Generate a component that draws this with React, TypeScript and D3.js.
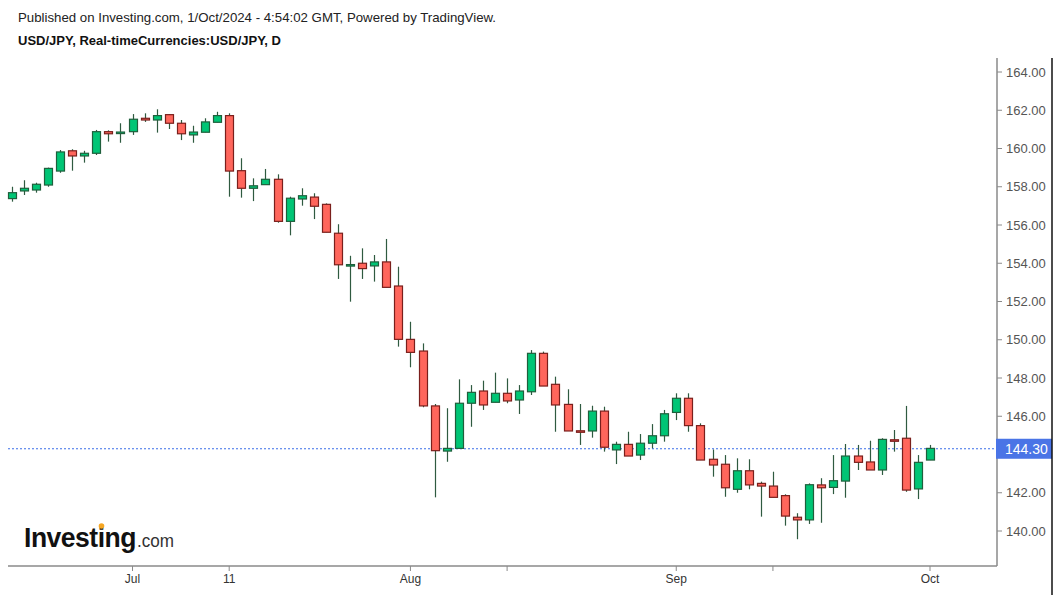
import React from "react";
import * as d3 from "d3";

// ---- Data (USD/JPY daily, 17 Jun 2024 – 1 Oct 2024) ----
const dates: string[] = [
  "2024-06-17","2024-06-18","2024-06-19","2024-06-20","2024-06-21",
  "2024-06-24","2024-06-25","2024-06-26","2024-06-27","2024-06-28",
  "2024-07-01","2024-07-02","2024-07-03","2024-07-04","2024-07-05",
  "2024-07-08","2024-07-09","2024-07-10","2024-07-11","2024-07-12",
  "2024-07-15","2024-07-16","2024-07-17","2024-07-18","2024-07-19",
  "2024-07-22","2024-07-23","2024-07-24","2024-07-25","2024-07-26",
  "2024-07-29","2024-07-30","2024-07-31","2024-08-01","2024-08-02",
  "2024-08-05","2024-08-06","2024-08-07","2024-08-08","2024-08-09",
  "2024-08-12","2024-08-13","2024-08-14","2024-08-15","2024-08-16",
  "2024-08-19","2024-08-20","2024-08-21","2024-08-22","2024-08-23",
  "2024-08-26","2024-08-27","2024-08-28","2024-08-29","2024-08-30",
  "2024-09-02","2024-09-03","2024-09-04","2024-09-05","2024-09-06",
  "2024-09-09","2024-09-10","2024-09-11","2024-09-12","2024-09-13",
  "2024-09-16","2024-09-17","2024-09-18","2024-09-19","2024-09-20",
  "2024-09-23","2024-09-24","2024-09-25","2024-09-26","2024-09-27",
  "2024-09-30","2024-10-01",
];

const opens: number[] = [
  157.38,157.78,157.83,158.09,158.82,159.88,159.61,159.75,160.88,160.78,
  160.88,161.58,161.49,161.77,161.32,160.71,160.85,161.37,161.72,158.84,
  157.92,158.11,158.39,156.19,157.36,157.46,157.08,155.57,153.92,154.00,
  153.86,154.07,152.81,150.02,149.41,146.54,144.18,144.32,146.68,147.32,
  146.73,147.20,146.85,147.28,149.29,147.67,146.62,145.24,145.23,146.27,
  144.24,144.53,143.97,144.59,144.98,146.20,146.94,145.51,143.75,143.49,
  142.18,143.15,142.49,142.35,141.85,140.72,140.58,142.41,142.28,142.61,
  143.92,143.61,143.19,144.77,144.85,142.20,143.71,
];
const highs: number[] = [
  158.00,158.34,158.21,159.00,159.92,159.96,159.88,160.97,160.95,161.32,
  161.80,161.84,162.05,161.80,161.49,161.19,161.58,161.92,161.84,159.49,
  158.44,158.93,158.65,157.48,157.92,157.66,157.13,156.04,154.39,154.78,
  154.43,155.27,153.82,150.94,149.81,146.64,146.42,147.93,147.63,147.86,
  148.28,147.98,147.63,149.46,149.38,148.07,147.41,146.64,146.55,146.50,
  144.67,145.19,145.07,145.59,146.33,147.20,147.20,145.63,144.26,143.97,
  143.80,143.75,142.58,143.10,141.92,140.93,142.49,142.76,143.97,144.55,
  144.50,144.72,144.85,145.28,146.54,143.97,144.50,
];
const lows: number[] = [
  157.22,157.57,157.69,158.00,158.73,158.84,159.26,159.66,160.36,160.30,
  160.71,161.39,160.83,161.02,160.44,160.30,160.85,161.37,157.48,157.43,
  157.25,158.11,156.12,155.46,157.01,156.31,155.62,153.18,151.99,153.18,
  153.04,152.74,149.64,148.56,146.47,141.76,143.62,144.32,145.45,146.33,
  146.73,146.68,146.12,147.11,147.58,145.19,145.23,144.50,144.88,144.15,
  143.50,143.92,143.71,144.32,144.67,145.80,145.19,143.71,142.84,141.79,
  142.00,142.18,140.75,141.76,140.28,139.57,140.37,140.43,141.93,141.74,
  143.19,143.19,142.93,144.15,142.05,141.67,143.71,
];
const closes: number[] = [
  157.69,157.92,158.13,158.96,159.82,159.61,159.75,160.88,160.77,160.86,
  161.53,161.49,161.72,161.32,160.77,160.86,161.39,161.72,158.82,157.92,
  158.05,158.39,156.19,157.40,157.53,156.98,155.62,153.92,153.93,153.72,
  154.07,152.74,150.02,149.34,146.54,144.20,144.32,146.68,147.25,146.59,
  147.20,146.80,147.32,149.29,147.58,146.59,145.23,145.22,146.27,144.38,
  144.53,143.92,144.59,144.98,146.13,146.94,145.51,143.71,143.45,142.26,
  143.15,142.41,142.35,141.76,140.78,140.58,142.42,142.26,142.63,143.92,
  143.59,143.19,144.79,144.76,142.14,143.59,144.32,
];

const yTicks: number[] = [140, 142, 144, 146, 148, 150, 152, 154, 156, 158, 160, 162, 164];
const xTickDates: string[] = ["2024-07-01", "2024-07-11", "2024-08-01", "2024-08-13", "2024-09-02", "2024-09-12", "2024-10-01"];
const xTickLabels: string[] = ["Jul", "11", "Aug", "", "Sep", "", "Oct"];
const lastPrice = 144.30;

const headerLine1 = "Published on Investing.com, 1/Oct/2024 - 4:54:02 GMT, Powered by TradingView.";
const headerLine2 = "USD/JPY, Real-timeCurrencies:USD/JPY, D";

export default function App() {
  const W = 1060, H = 595;
  const plotLeft = 8, plotRight = 997, plotTop = 58, plotBottom = 566;

  const x = d3.scalePoint<string>().domain(dates).range([11.7, 930]);
  const y = d3.scaleLinear().domain([140, 164]).range([531, 72]);

  const bodyW = 8;
  const GREEN = "#00c575", GREEN_B = "#1f5f3c";
  const RED = "#ff665c", RED_B = "#7a1f1c";
  const WICK = "#2f5a40";
  const font = "Arial, 'Liberation Sans', sans-serif";

  const candles = dates.map((d, i) => ({ d, o: opens[i], h: highs[i], l: lows[i], c: closes[i] }));
  const labelY = y(lastPrice);

  return (
    <svg width={W} height={H} style={{ position: "absolute", left: 0, top: 0, background: "#fff" }}
      fontFamily={font}>
      <rect x={0} y={0} width={W} height={H} fill="#fff" />
      <text x={18} y={22} fontSize={13} fill="#222" textLength={478} lengthAdjust="spacingAndGlyphs">{headerLine1}</text>
      <text x={18} y={45} fontSize={13} fontWeight="bold" fill="#111">{headerLine2}</text>

      {/* last price dashed line */}
      <line x1={plotLeft} x2={plotRight} y1={labelY} y2={labelY}
        stroke="#3a6ee8" strokeWidth={1} strokeDasharray="2,2" />

      {/* candles */}
      {candles.map((k) => {
        const cx = Math.round(x(k.d)!) + 0.5;
        const up = k.c >= k.o;
        const top = y(Math.max(k.o, k.c));
        const bot = y(Math.min(k.o, k.c));
        const bh = Math.max(bot - top, 1.5);
        return (
          <g key={k.d}>
            <line x1={cx} x2={cx} y1={y(k.h)} y2={y(k.l)} stroke={WICK} strokeWidth={1.2} />
            <rect x={cx - bodyW / 2} y={top} width={bodyW} height={bh}
              fill={up ? GREEN : RED} stroke={up ? GREEN_B : RED_B} strokeWidth={1.2} />
          </g>
        );
      })}

      {/* y axis */}
      <line x1={plotRight} x2={plotRight} y1={plotTop} y2={plotBottom} stroke="#8a8a8a" strokeWidth={1.5} />
      {yTicks.map((t) => (
        <g key={t}>
          <line x1={plotRight} x2={plotRight + 5} y1={y(t)} y2={y(t)} stroke="#8a8a8a" />
          {Math.abs(y(t) - labelY) > 16 && (
            <text x={1006} y={y(t)} dy="0.35em" fontSize={13} fill="#555">{t.toFixed(2)}</text>
          )}
        </g>
      ))}

      {/* last price label */}
      <rect x={996} y={labelY - 10} width={56} height={20} fill="#4a74e6" />
      <text x={1005} y={labelY} dy="0.36em" fontSize={14} fill="#fff">{lastPrice.toFixed(2)}</text>

      {/* x axis */}
      <line x1={plotLeft} x2={plotRight} y1={plotBottom} y2={plotBottom} stroke="#8a8a8a" strokeWidth={1.5} />
      {xTickDates.map((d, i) => (
        <g key={d}>
          <line x1={x(d)!} x2={x(d)!} y1={plotBottom} y2={plotBottom + 5} stroke="#8a8a8a" />
          <text x={x(d)!} y={583} textAnchor="middle" fontSize={12} fill="#333">{xTickLabels[i]}</text>
        </g>
      ))}

      {/* right border */}
      <line x1={1052} x2={1052} y1={plotTop} y2={H} stroke="#111" strokeWidth={1.5} />

      {/* logo */}
      <text x={24} y={547} fontSize={27} fontWeight="bold" fill="#111" letterSpacing={-0.5}
        textLength={112} lengthAdjust="spacingAndGlyphs">Investing</text>
      <circle cx={101.5} cy={526} r={2.8} fill="#f5a623" />
      <text x={137} y={547} fontSize={18} fill="#333" textLength={37} lengthAdjust="spacingAndGlyphs">.com</text>
    </svg>
  );
}
